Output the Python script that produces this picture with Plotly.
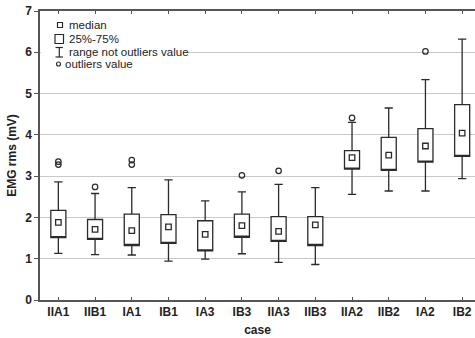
import plotly.graph_objects as go

cases = ["IIA1", "IIB1", "IA1", "IB1", "IA3", "IB3", "IIA3", "IIB3", "IIA2", "IIB2", "IA2", "IB2"]
whisker_low = [1.13, 1.10, 1.09, 0.94, 0.99, 1.12, 0.91, 0.86, 2.56, 2.64, 2.64, 2.94]
q25 = [1.51, 1.47, 1.32, 1.37, 1.19, 1.52, 1.42, 1.32, 3.17, 3.14, 3.34, 3.48]
medians = [1.88, 1.71, 1.68, 1.77, 1.59, 1.80, 1.66, 1.82, 3.45, 3.51, 3.73, 4.04]
q75 = [2.17, 1.95, 2.08, 2.07, 1.92, 2.08, 2.02, 2.02, 3.62, 3.94, 4.15, 4.73]
whisker_high = [2.86, 2.58, 2.72, 2.91, 2.40, 2.62, 2.80, 2.72, 4.30, 4.65, 5.34, 6.32]
outlier_cases = ["IIA1", "IIA1", "IIB1", "IA1", "IA1", "IB3", "IIA3", "IIA2", "IA2"]
outlier_values = [3.28, 3.35, 2.74, 3.28, 3.39, 3.02, 3.13, 4.41, 6.02]
y_ticks = [0, 1, 2, 3, 4, 5, 6, 7]

INK = "#2b2b2b"
FONT = "Liberation Sans, Arial, sans-serif"

fig = go.Figure()
fig.add_trace(go.Box(
    x=cases, q1=q25, median=q25, q3=q75,
    lowerfence=whisker_low, upperfence=whisker_high,
    boxpoints=False, fillcolor="white",
    line=dict(color=INK, width=1.3), width=0.41, whiskerwidth=0.55,
    showlegend=False, hoverinfo="skip",
))
fig.add_trace(go.Scatter(
    x=cases, y=medians, mode="markers",
    marker=dict(symbol="square-open", size=5.5, color=INK, line=dict(width=1.3)),
    showlegend=False,
))
fig.add_trace(go.Scatter(
    x=outlier_cases, y=outlier_values, mode="markers",
    marker=dict(symbol="circle-open", size=5.5, color=INK, line=dict(width=1.2)),
    showlegend=False,
))

# plot area in pixels: x 40..475, y 11..300
def px(x):
    return (x - 40) / 435.0

def py(y):
    return (300 - y) / 289.0

shapes = []
# white backdrop for legend
shapes.append(dict(type="rect", xref="paper", yref="paper", x0=px(41), x1=px(187), y0=py(70), y1=py(17),
                   fillcolor="white", line=dict(width=0)))
# median glyph
shapes.append(dict(type="rect", xref="paper", yref="paper", x0=px(57.5), x1=px(62.5), y0=py(27.5), y1=py(22.5),
                   line=dict(color=INK, width=1.2), fillcolor="white"))
# box glyph
shapes.append(dict(type="rect", xref="paper", yref="paper", x0=px(55), x1=px(63.5), y0=py(43.5), y1=py(34.5),
                   line=dict(color=INK, width=1.2), fillcolor="white"))
# I-beam glyph
shapes.append(dict(type="line", xref="paper", yref="paper", x0=px(59.3), x1=px(59.3), y0=py(57), y1=py(47.5),
                   line=dict(color=INK, width=1.2)))
shapes.append(dict(type="line", xref="paper", yref="paper", x0=px(55.5), x1=px(63), y0=py(47.5), y1=py(47.5),
                   line=dict(color=INK, width=1.2)))
shapes.append(dict(type="line", xref="paper", yref="paper", x0=px(55.5), x1=px(63), y0=py(57), y1=py(57),
                   line=dict(color=INK, width=1.2)))
# outlier glyph
shapes.append(dict(type="circle", xref="paper", yref="paper", x0=px(56.5), x1=px(60.5), y0=py(66), y1=py(62),
                   line=dict(color=INK, width=1.1), fillcolor="white"))

annotations = []
for text, xx, yy in [("median", 67, 25), ("25%-75%", 67, 38.5), ("range not outliers value", 67, 51.5),
                     ("outliers value", 63, 64)]:
    annotations.append(dict(text=text, xref="paper", yref="paper", x=px(xx), y=py(yy),
                            xanchor="left", yanchor="middle", showarrow=False,
                            font=dict(family=FONT, size=11.5, color="#222222")))

fig.update_layout(
    width=475, height=338,
    margin=dict(l=40, r=0, t=11, b=38),
    paper_bgcolor="white", plot_bgcolor="white",
    font=dict(family=FONT, size=12, color="#222222"),
    shapes=shapes, annotations=annotations,
    showlegend=False,
)
fig.update_xaxes(
    type="category", categoryorder="array", categoryarray=cases,
    range=[-0.5, 11.35],
    showline=True, linecolor="#555555", linewidth=1.5, mirror="allticks",
    ticks="inside", ticklen=3, tickcolor="#555555",
    showgrid=False, zeroline=False,
    tickfont=dict(family=FONT, size=12, color="#222222", weight="bold"),
    title=dict(text="<b>case</b>", standoff=7, font=dict(family=FONT, size=12, color="#222222")),
)
fig.update_yaxes(
    range=[0, 7], tickvals=y_ticks, ticktext=[str(v) for v in y_ticks],
    showline=True, linecolor="#555555", linewidth=1.5,
    ticks="outside", ticklen=4, tickcolor="#555555",
    showgrid=True, gridcolor="#c8c8c8", gridwidth=1, zeroline=False,
    tickfont=dict(family=FONT, size=12, color="#222222", weight="bold"),
    title=dict(text="<b>EMG rms (mV)</b>", standoff=6, font=dict(family=FONT, size=12, color="#222222")),
)

fig.write_html("out.html", config={"displayModeBar": False},
               post_script="document.body.style.margin='0';document.body.style.overflow='hidden';")
